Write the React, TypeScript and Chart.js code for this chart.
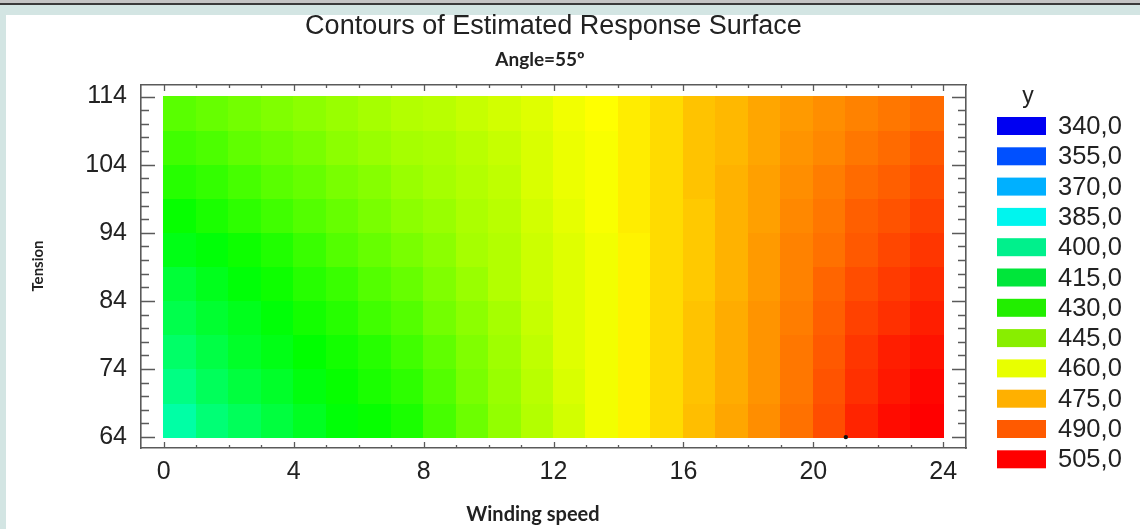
import { useEffect, useRef } from "react";
import { Chart, registerables } from "chart.js";

Chart.register(...registerables);

// ---------- data ----------
const speedCenters = [0.5, 1.5, 2.5, 3.5, 4.5, 5.5, 6.5, 7.5, 8.5, 9.5, 10.5, 11.5, 12.5, 13.5, 14.5, 15.5, 16.5, 17.5, 18.5, 19.5, 20.5, 21.5, 22.5, 23.5];
const tensionCenters = [66.5, 71.5, 76.5, 81.5, 86.5, 91.5, 96.5, 101.5, 106.5, 111.5];

const row66 = [398, 405, 409, 413, 417, 421, 423, 426, 433, 439, 445, 450, 455, 460, 464, 468, 473, 477, 481, 486, 492, 499, 503, 506];
const row71 = [403, 409, 413, 416, 420, 423, 426, 429, 435, 441, 446, 451, 456, 460, 464, 468, 472, 476, 480, 485, 491, 497, 501, 504];
const row76 = [407, 412, 416, 419, 422, 425, 428, 432, 437, 442, 447, 452, 457, 460, 464, 468, 472, 476, 480, 485, 490, 496, 500, 502];
const row81 = [411, 415, 418, 421, 425, 428, 432, 435, 440, 444, 448, 453, 457, 460, 464, 468, 472, 476, 480, 484, 489, 494, 497, 500];
const row86 = [414, 418, 421, 424, 428, 431, 435, 438, 442, 446, 450, 454, 457, 460, 464, 468, 471, 475, 479, 483, 488, 492, 495, 498];
const row91 = [419, 421, 424, 427, 431, 435, 438, 441, 444, 448, 450, 454, 457, 460, 464, 468, 471, 475, 479, 483, 486, 490, 493, 496];
const row96 = [423, 426, 429, 432, 435, 438, 441, 444, 446, 449, 451, 455, 458, 461, 465, 468, 471, 475, 478, 482, 485, 489, 491, 494];
const row101 = [428, 430, 433, 436, 438, 441, 443, 446, 448, 450, 452, 456, 459, 461, 465, 468, 472, 475, 478, 481, 484, 487, 489, 492];
const row106 = [432, 434, 437, 439, 441, 444, 446, 448, 449, 451, 453, 456, 459, 461, 465, 468, 472, 474, 477, 480, 482, 485, 487, 490];
const row111 = [436, 438, 440, 442, 444, 446, 448, 450, 451, 453, 455, 457, 460, 462, 465, 468, 472, 474, 477, 479, 481, 483, 485, 487];
const surfaceRows = [row66, row71, row76, row81, row86, row91, row96, row101, row106, row111];

const xTickValues = [0, 4, 8, 12, 16, 20, 24];
const yTickValues = [64, 74, 84, 94, 104, 114];

const legendLabels = ["340,0", "355,0", "370,0", "385,0", "400,0", "415,0", "430,0", "445,0", "460,0", "475,0", "490,0", "505,0"];
const legendColors = ["#0000f2", "#0050ff", "#00b0ff", "#00f5ee", "#00f08c", "#00e63a", "#22ee00", "#88ee00", "#e8ff00", "#ffb000", "#ff5a00", "#ff0000"];

const markerPoints = [{ x: 21, y: 64 }];

// colour ramp used for the shaded surface (value -> hue)
const hueStops: [number, number][] = [
  [385, 180],
  [422, 120],
  [462, 60],
  [505, 0],
];

function surfaceColor(v: number): string {
  let h = hueStops[0][1];
  if (v >= hueStops[hueStops.length - 1][0]) h = hueStops[hueStops.length - 1][1];
  else {
    for (let i = 0; i < hueStops.length - 1; i++) {
      const [v0, h0] = hueStops[i];
      const [v1, h1] = hueStops[i + 1];
      if (v >= v0 && v <= v1) {
        h = h0 + ((v - v0) / (v1 - v0)) * (h1 - h0);
        break;
      }
    }
  }
  return `hsl(${h.toFixed(1)}, 100%, 50%)`;
}

const FRAME = "#5a5a5a";
const TXT = "#222";
const SANS = "'Liberation Sans', Arial, sans-serif";
const BOLD = "Lato, 'Open Sans', sans-serif";

const heatPlugin = {
  id: "heat",
  beforeDatasetsDraw(chart: any) {
    const { ctx, scales, chartArea } = chart;
    const xs = scales.x;
    const ys = scales.y;
    const cells = chart.data.datasets[0].data as any[];
    ctx.save();
    ctx.beginPath();
    ctx.rect(chartArea.left, chartArea.top, chartArea.right - chartArea.left, chartArea.bottom - chartArea.top);
    ctx.clip();
    for (const c of cells) {
      const x0 = Math.floor(xs.getPixelForValue(c.x - c.hw));
      const x1 = Math.ceil(xs.getPixelForValue(c.x + c.hw));
      const yTop = Math.floor(ys.getPixelForValue(c.y + c.hh));
      const yBot = Math.ceil(ys.getPixelForValue(c.y - c.hh));
      ctx.fillStyle = surfaceColor(c.v);
      ctx.fillRect(x0, yTop, x1 - x0, yBot - yTop);
    }
    ctx.restore();
  },
};

const framePlugin = {
  id: "frameTicks",
  afterDraw(chart: any) {
    const { ctx, scales, chartArea } = chart;
    const xs = scales.x;
    const ys = scales.y;
    ctx.save();
    ctx.strokeStyle = FRAME;
    ctx.lineWidth = 1.3;
    ctx.beginPath();
    for (let v = 0; v <= 24; v++) {
      const px = Math.round(xs.getPixelForValue(v)) + 0.5;
      const len = v % 4 === 0 ? 6 : 3;
      ctx.moveTo(px, chartArea.bottom);
      ctx.lineTo(px, chartArea.bottom - len);
      ctx.moveTo(px, chartArea.top);
      ctx.lineTo(px, chartArea.top + len);
    }
    for (let v = 64; v <= 114; v += 2) {
      const py = Math.round(ys.getPixelForValue(v)) + 0.5;
      const len = (v - 64) % 10 === 0 ? 14 : 8;
      ctx.moveTo(chartArea.left, py);
      ctx.lineTo(chartArea.left + len, py);
      ctx.moveTo(chartArea.right, py);
      ctx.lineTo(chartArea.right - len, py);
    }
    ctx.stroke();
    ctx.restore();
  },
};

const textPlugin = {
  id: "extraText",
  afterDraw(chart: any) {
    const { ctx } = chart;
    ctx.save();
    ctx.fillStyle = TXT;
    ctx.textAlign = "center";
    ctx.textBaseline = "middle";
    ctx.font = `bold 19px ${BOLD}`;
    ctx.fillText("Angle=55º", 540, 60);
    ctx.font = `bold 20px ${BOLD}`;
    ctx.fillText("Winding speed", 533, 515);
    ctx.translate(38, 266);
    ctx.rotate(-Math.PI / 2);
    ctx.font = `bold 15px ${BOLD}`;
    ctx.fillText("Tension", 0, 0);
    ctx.restore();
  },
};

const legendPlugin = {
  id: "levelLegend",
  afterDraw(chart: any) {
    const { ctx, chartArea } = chart;
    const boxLeft = chartArea.right + 31;
    const boxW = 49;
    const boxH = 18;
    const top0 = 117;
    const step = 30.3;
    ctx.save();
    ctx.fillStyle = TXT;
    ctx.font = `23px ${SANS}`;
    ctx.textAlign = "center";
    ctx.textBaseline = "middle";
    ctx.fillText("y", boxLeft + 31, 97);
    ctx.textAlign = "left";
    ctx.font = `25.5px ${SANS}`;
    legendLabels.forEach((lab, i) => {
      const y = top0 + i * step;
      ctx.fillStyle = legendColors[i];
      ctx.fillRect(boxLeft, y, boxW, boxH);
      ctx.fillStyle = TXT;
      ctx.fillText(lab, boxLeft + 61, y + boxH / 2 + 1);
    });
    ctx.restore();
  },
};

export default function App() {
  const canvasRef = useRef<HTMLCanvasElement | null>(null);

  useEffect(() => {
    const canvas = canvasRef.current;
    if (!canvas) return;
    const hw = (speedCenters[1] - speedCenters[0]) / 2;
    const hh = (tensionCenters[1] - tensionCenters[0]) / 2;
    const cells: any[] = [];
    tensionCenters.forEach((t, r) => {
      speedCenters.forEach((s, c) => {
        cells.push({ x: s, y: t, v: surfaceRows[r][c], hw, hh });
      });
    });

    const xMin = -0.7;
    const xMax = 24.7;
    const yMin = 62.4;
    const yMax = 115.7;

    const chart = new Chart(canvas, {
      type: "scatter",
      data: {
        datasets: [
          {
            label: "y",
            data: cells,
            pointRadius: 0,
            pointHoverRadius: 0,
            showLine: false,
          },
          {
            label: "point",
            data: markerPoints,
            pointRadius: 2.2,
            pointHoverRadius: 2.2,
            backgroundColor: "#111",
            borderWidth: 0,
          },
        ],
      } as any,
      options: {
        animation: false,
        responsive: false,
        devicePixelRatio: 1,
        events: [],
        layout: { padding: 0 },
        plugins: {
          legend: { display: false },
          tooltip: { enabled: false },
          title: {
            display: true,
            text: "Contours of Estimated Response Surface",
            font: { family: SANS, size: 27, weight: "normal" },
            color: TXT,
            padding: { top: 10.8, bottom: 30.8 },
            fullSize: false,
          },
        },
        scales: {
          x: {
            type: "linear",
            position: "bottom",
            min: xMin,
            max: xMax,
            grid: { display: false, drawTicks: false },
            border: { display: true, color: FRAME, width: 1.6 },
            ticks: { font: { family: SANS, size: 25 }, color: TXT, padding: 9, maxRotation: 0, autoSkip: false },
            afterBuildTicks: (s: any) => {
              s.ticks = xTickValues.map((v) => ({ value: v }));
            },
            afterFit: (s: any) => {
              s.height = 81;
            },
          },
          x2: {
            type: "linear",
            position: "top",
            min: xMin,
            max: xMax,
            grid: { display: false, drawTicks: false },
            border: { display: true, color: FRAME, width: 1.6 },
            ticks: { display: false },
            afterFit: (s: any) => {
              s.height = 11;
            },
          },
          y: {
            type: "linear",
            position: "left",
            min: yMin,
            max: yMax,
            grid: { display: false, drawTicks: false },
            border: { display: true, color: FRAME, width: 1.6 },
            ticks: { font: { family: SANS, size: 25 }, color: TXT, padding: 14, autoSkip: false },
            afterBuildTicks: (s: any) => {
              s.ticks = yTickValues.map((v) => ({ value: v }));
            },
            afterFit: (s: any) => {
              s.width = 141;
            },
          },
          y2: {
            type: "linear",
            position: "right",
            min: yMin,
            max: yMax,
            grid: { display: false, drawTicks: false },
            border: { display: true, color: FRAME, width: 1.6 },
            ticks: { display: false },
            afterFit: (s: any) => {
              s.width = 174;
            },
          },
        },
      } as any,
      plugins: [heatPlugin, framePlugin, textPlugin, legendPlugin],
    });
    return () => chart.destroy();
  }, []);

  return (
    <div style={{ position: "fixed", left: 0, top: 0, width: 1140, height: 529, background: "#d3e5e3", overflow: "hidden" }}>
      <div style={{ position: "absolute", left: 0, top: 0, width: 1140, height: 3, background: "#c4c4c4" }} />
      <div style={{ position: "absolute", left: 0, top: 3, width: 1140, height: 2, background: "#3a3a3a" }} />
      <div style={{ position: "absolute", left: 6, top: 15, width: 1134, height: 514, background: "#ffffff" }} />
      <canvas ref={canvasRef} width={1140} height={529} style={{ position: "absolute", left: 0, top: 0, width: 1140, height: 529 }} />
    </div>
  );
}
